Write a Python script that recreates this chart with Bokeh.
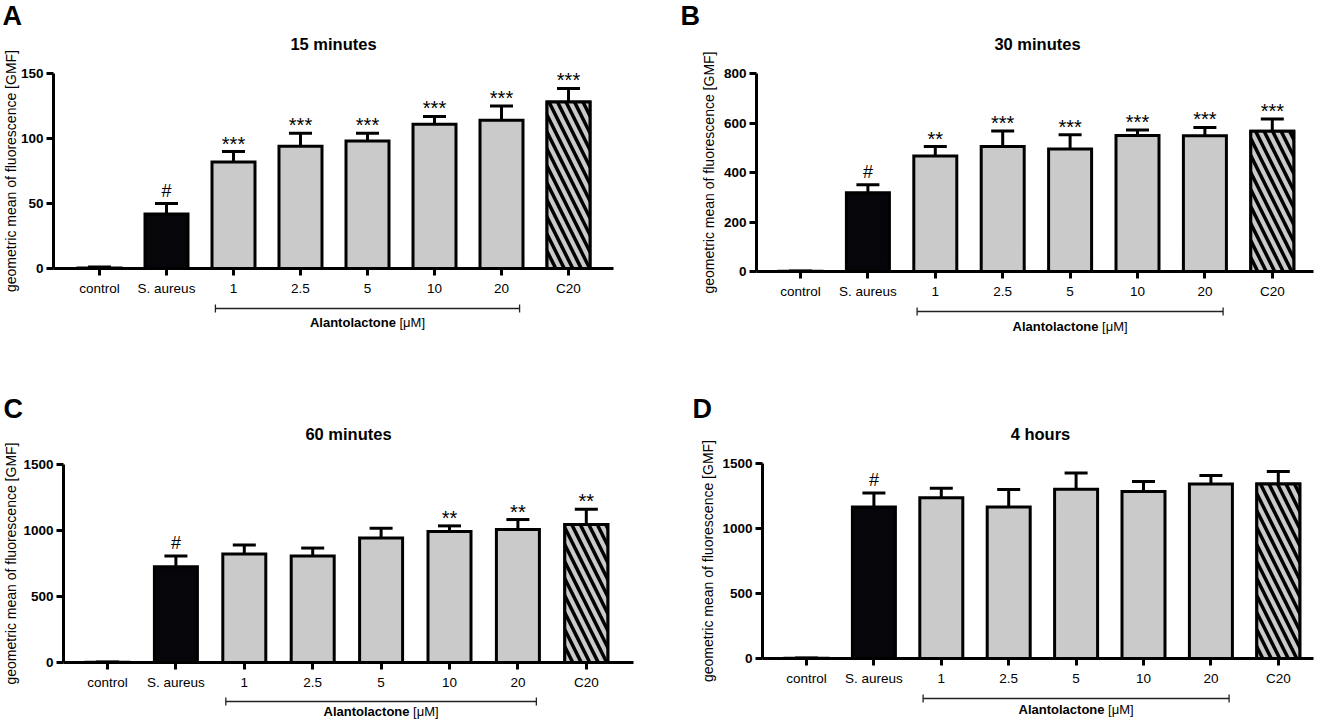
import math
from bokeh.plotting import figure
from bokeh.models import Range1d, FixedTicker, ColumnDataSource
from bokeh.layouts import column, row
from bokeh.embed import file_html
from bokeh.resources import INLINE
from bokeh.core.properties import value

# ---------------- data ----------------
categories = ["control", "S. aureus", "1", "2.5", "5", "10", "20", "C20"]
alantolactone_first = "1"
alantolactone_last = "20"
hatched_category = "C20"
infected_category = "S. aureus"

titles = ["15 minutes", "30 minutes", "60 minutes", "4 hours"]
panel_letters = ["A", "B", "C", "D"]
ylabel = "geometric mean of fluorescence [GMF]"
group_label_bold = "Alantolactone"
group_label_unit = "[\u03bcM]"

gmf_15min = [0.3, 42, 82, 94, 98, 111, 114, 128]
sd_15min = [0.9, 8, 8, 10, 6, 6, 11, 10.5]
sig_15min = ["", "#", "***", "***", "***", "***", "***", "***"]
yticks_15min = [0, 50, 100, 150]

gmf_30min = [1, 318, 467, 505, 495, 550, 548, 567]
sd_30min = [1, 33, 38, 63, 58, 22, 34, 49]
sig_30min = ["", "#", "**", "***", "***", "***", "***", "***"]
yticks_30min = [0, 200, 400, 600, 800]

gmf_60min = [2, 726, 822, 807, 944, 992, 1007, 1045]
sd_60min = [2, 80, 68, 60, 73, 43, 76, 116]
sig_60min = ["", "#", "", "", "", "**", "**", "**"]
yticks_60min = [0, 500, 1000, 1500]

gmf_4h = [2, 1166, 1236, 1166, 1302, 1284, 1343, 1343]
sd_4h = [2, 108, 74, 134, 124, 77, 65, 95]
sig_4h = ["", "#", "", "", "", "", "", ""]
yticks_4h = [0, 500, 1000, 1500]

# ---------------- style / layout (pixels) ----------------
FONT = "Liberation Sans"
GRAY = "#c9cac9"
BLACK = "#05050a"

layouts = [
    dict(w=658, h=360, left=53, top=73, axis=268, right=613, ctrl=99, spacing=67.0,
         ylab_x=10, letter_x=2, letter_y=15, title_x=333, title_y=43, br_dy=40, lab_dy=54),
    dict(w=658, h=360, left=98, top=73, axis=271, right=655, ctrl=142, spacing=67.4,
         ylab_x=50, letter_x=22, letter_y=15, title_x=379, title_y=43, br_dy=40, lab_dy=55),
    dict(w=658, h=360, left=63, top=104, axis=302, right=633, ctrl=107, spacing=68.4,
         ylab_x=10, letter_x=3, letter_y=48, title_x=348, title_y=73, br_dy=39, lab_dy=49),
    dict(w=658, h=360, left=104, top=103, axis=298, right=655, ctrl=148, spacing=67.4,
         ylab_x=49, letter_x=34, letter_y=48, title_x=382, title_y=73, br_dy=40, lab_dy=51),
]


def make_panel(cfg, title, letter, gmf, sd, sig, yticks):
    W, H = cfg["w"], cfg["h"]
    fl, ft, fr, fb = cfg["left"], cfg["top"], cfg["right"], cfg["axis"]
    sp = cfg["spacing"]
    x_start = -(cfg["ctrl"] - fl) / sp
    x_end = x_start + (fr - fl) / sp
    ymax = yticks[-1]
    ppy = (fb - ft) / ymax

    def yd(px):
        return (fb - px) / ppy

    def xd(px):
        return x_start + (px - fl) / sp

    p = figure(width=W, height=H, x_range=Range1d(xd(0), xd(W)), y_range=Range1d(yd(H), yd(0)),
               output_backend="svg", toolbar_location=None, tools="",
               min_border_left=0, min_border_right=0, min_border_top=0, min_border_bottom=0)
    p.outline_line_color = None
    p.grid.visible = False
    p.background_fill_color = "white"
    p.border_fill_color = "white"

    idx = list(range(len(categories)))
    bar_w = 43.0 / sp
    cap_half = 11.5 / sp
    tops = [m + s for m, s in zip(gmf, sd)]
    fills = [BLACK if c == infected_category else GRAY for c in categories]

    src = ColumnDataSource(dict(x=idx, top=gmf, fill=fills, err=tops,
                                cl=[i - cap_half for i in idx], cr=[i + cap_half for i in idx]))
    p.vbar(x="x", top="top", width=bar_w, bottom=0, source=src, fill_color="fill",
           line_color="black", line_width=3, line_join="miter")
    hi = [i for i, c in enumerate(categories) if c == hatched_category]
    p.vbar(x=hi, top=[gmf[i] for i in hi], width=bar_w, bottom=0, fill_color=GRAY,
           hatch_pattern="\\", hatch_color="black", hatch_weight=3.5, hatch_scale=17,
           line_color="black", line_width=3, line_join="miter")
    p.segment(x0="x", y0="top", x1="x", y1="err", source=src, line_color="black", line_width=3)
    p.segment(x0="cl", y0="err", x1="cr", y1="err", source=src, line_color="black", line_width=3)

    star_i = [i for i, s in enumerate(sig) if s.startswith("*")]
    hash_i = [i for i, s in enumerate(sig) if s == "#"]
    if star_i:
        p.text(x=star_i, y=[tops[i] + 8 / ppy for i in star_i], text=[sig[i] for i in star_i],
               text_font=value(FONT), text_font_size="20px", text_align="center",
               text_baseline="alphabetic", text_color="black")
    if hash_i:
        p.text(x=hash_i, y=[tops[i] + 13 / ppy for i in hash_i], text=[sig[i] for i in hash_i],
               text_font=value(FONT), text_font_size="18px", text_align="center",
               text_baseline="alphabetic", text_color="black")

    # axes placed at fixed locations inside the full-canvas frame
    p.xaxis.fixed_location = 0
    p.xaxis.bounds = (x_start, x_end)
    p.yaxis.fixed_location = x_start
    p.yaxis.bounds = (0, ymax)
    p.xaxis.ticker = FixedTicker(ticks=idx)
    p.xaxis.major_label_overrides = {i: c for i, c in zip(idx, categories)}
    p.yaxis.ticker = FixedTicker(ticks=yticks)
    for ax in (p.xaxis, p.yaxis):
        ax.axis_line_width = 3
        ax.axis_line_color = "black"
        ax.major_tick_line_width = 3
        ax.major_tick_line_color = "black"
        ax.major_tick_out = 7
        ax.major_tick_in = 0
        ax.minor_tick_line_color = None
        ax.major_label_text_font = FONT
        ax.major_label_text_color = "black"
    p.xaxis.major_label_text_font_size = "13.5px"
    p.xaxis.major_label_standoff = 5
    p.yaxis.major_label_text_font_size = "13.5px"
    p.yaxis.major_label_text_font_style = "bold"
    p.yaxis.major_label_standoff = 3

    # y label, title, panel letter
    p.text(x=[xd(cfg["ylab_x"])], y=[yd((ft + fb) / 2)], text=[ylabel], angle=math.pi / 2,
           text_font=value(FONT), text_font_size="14px", text_align="center",
           text_baseline="middle", text_color="black")
    p.text(x=[xd(cfg["title_x"])], y=[yd(cfg["title_y"])], text=[title],
           text_font=value(FONT), text_font_size="16.5px", text_font_style="bold",
           text_align="center", text_baseline="middle", text_color="black")
    p.text(x=[xd(cfg["letter_x"])], y=[yd(cfg["letter_y"])], text=[letter],
           text_font=value(FONT), text_font_size="27px", text_font_style="bold",
           text_align="left", text_baseline="middle", text_color="black")

    # bracket for Alantolactone concentrations
    i0 = categories.index(alantolactone_first)
    i1 = categories.index(alantolactone_last)
    by = yd(fb + cfg["br_dy"])
    bx0, bx1 = i0 - 0.27, i1 + 0.27
    tee = 4 / ppy
    p.segment(x0=[bx0, bx0, bx1], y0=[by, by - tee, by - tee], x1=[bx1, bx0, bx1],
              y1=[by, by + tee, by + tee], line_width=1.3, line_color="#222222")
    cx = (i0 + i1) / 2
    fs = 13.0
    w_bold = 6.612 * fs
    w_unit = 1.965 * fs
    w_space = 0.278 * fs
    total = w_bold + w_space + w_unit
    split = cx + (-total / 2 + w_bold) / sp
    ly = yd(fb + cfg["lab_dy"])
    p.text(x=[split], y=[ly], text=[group_label_bold], text_font=value(FONT),
           text_font_size="13px", text_font_style="bold", text_align="right",
           text_baseline="middle", text_color="black")
    p.text(x=[split + w_space / sp], y=[ly], text=[group_label_unit], text_font=value(FONT),
           text_font_size="13px", text_align="left",
           text_baseline="middle", text_color="black")
    return p


series = [
    (gmf_15min, sd_15min, sig_15min, yticks_15min),
    (gmf_30min, sd_30min, sig_30min, yticks_30min),
    (gmf_60min, sd_60min, sig_60min, yticks_60min),
    (gmf_4h, sd_4h, sig_4h, yticks_4h),
]
panels = [make_panel(layouts[k], titles[k], panel_letters[k], *series[k]) for k in range(4)]

page = column(row(panels[0], panels[1]), row(panels[2], panels[3]))
open("out.html", "w").write(file_html(page, INLINE))
